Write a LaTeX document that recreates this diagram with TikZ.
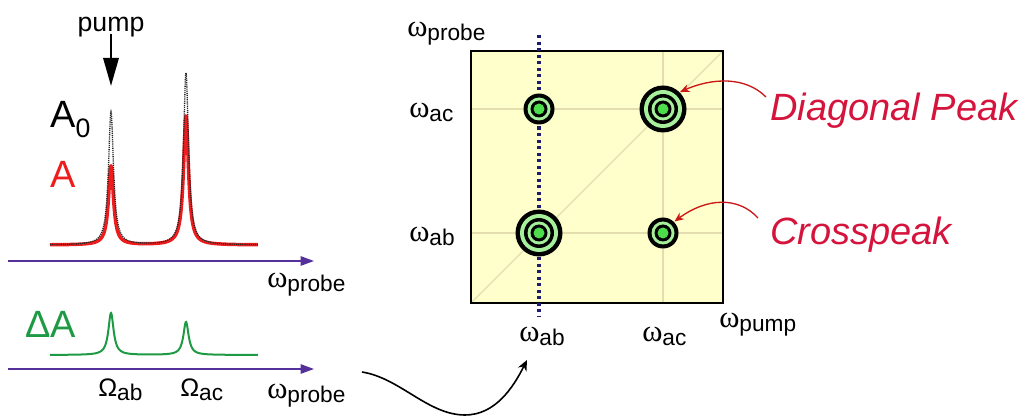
\documentclass[tikz,border=0pt]{standalone}
\usepackage{fontspec}
\setmainfont{Liberation Sans}
\newfontfamily\grk{Liberation Serif}
\usetikzlibrary{arrows.meta}

\definecolor{mapfill}{HTML}{FFFFCC}
\definecolor{gridtan}{HTML}{E4DDB0}
\definecolor{ringgreen}{HTML}{A6F09C}
\definecolor{coregreen}{HTML}{4CDC4C}
\definecolor{specred}{HTML}{EE1C1C}
\definecolor{notered}{HTML}{D4143C}
\definecolor{axispurple}{HTML}{56309A}
\definecolor{diffgreen}{HTML}{1E9A45}
\definecolor{cutnavy}{HTML}{1C1C70}

% frequency labels: symbol with a lowered subscript word
\newcommand{\wlab}[1]{{\fontsize{23}{23}\selectfont\grk ω}{\fontsize{17}{17}\selectfont\raisebox{-3pt}{#1}}}
\newcommand{\Wlab}[1]{{\fontsize{19}{19}\selectfont Ω}{\fontsize{17}{17}\selectfont\raisebox{-3pt}{#1}}}

\begin{document}
\begin{tikzpicture}[x=0.75pt,y=-0.75pt,
  lab/.style={inner sep=0pt, anchor=base west},
  bigtext/.style={inner sep=0pt, anchor=base west, font=\fontsize{28.5}{28.5}\selectfont},
  note/.style={inner sep=0pt, anchor=west, text=notered, font=\fontsize{28.5}{28.5}\selectfont\itshape},
  freqaxis/.style={draw=axispurple, line width=1.2pt, -{Triangle[width=7pt,length=10pt]}},
  pointer/.style={draw=specred!85!black, line width=1pt, -{Stealth[width=6pt,length=7pt]}},
  peakspot/.style={circle, inner sep=0pt, draw=none}]

\useasboundingbox (0,0) rectangle (1026,417);

% ---------- upper spectrum: A0 (dotted) and pumped A (red) ----------
% the plot variable t runs in steps of ten units from x = 50
\node[inner sep=0pt, anchor=base, font=\fontsize{20}{20}\selectfont] (pumplab) at (111,32) {pump};
\coordinate (pumptip) at (111,86);
\draw[line width=1.6pt, -{Triangle[width=11.5pt,length=21pt]}] (pumplab.south) ++(0,-4) -- (pumptip);

\node[bigtext] (A0) at (50,128) {A\raisebox{-7pt}{\fontsize{20}{20}\selectfont 0}};
\node[bigtext, text=specred] (A) at (50,188) {A};

\draw[specred, line width=2.6pt, line join=round]
  plot[domain=0:20.8, samples=700, variable=\t]
  ({50+10*\t},{245-79*0.09/((\t-6.1)^2+0.09)-129*0.09/((\t-13.6)^2+0.09)});
\draw[black!85, line width=1pt, dash pattern=on 0.9pt off 0.7pt]
  plot[domain=0:20.8, samples=700, variable=\t]
  ({50+10*\t},{245-133*0.09/((\t-6.1)^2+0.09)-172*0.09/((\t-13.6)^2+0.09)});

\coordinate (ax1s) at (8,261);
\coordinate (ax1e) at (314,261);
\draw[freqaxis] (ax1s) -- (ax1e);
\node[lab] (probe1) at (267,288) {\wlab{probe}};

% ---------- lower spectrum: difference signal ----------
\node[bigtext, text=diffgreen] (dA) at (25,338) {ΔA};
\draw[diffgreen, line width=1.5pt]
  plot[domain=0:20.8, samples=600, variable=\t]
  ({50+10*\t},{355-42*0.1/((\t-6.1)^2+0.1)-33*0.1/((\t-13.6)^2+0.1)});

\coordinate (ax2s) at (8,369);
\coordinate (ax2e) at (314,369);
\draw[freqaxis] (ax2s) -- (ax2e);
\node[lab] (Oab) at (98,397) {\Wlab{ab}};
\node[lab] (Oac) at (180,397) {\Wlab{ac}};
\node[lab] (probe2) at (267,398) {\wlab{probe}};

% ---------- 2D map ----------
\fill[mapfill] (471,51) rectangle (723,303);
\draw[gridtan, line width=0.8pt] (471,109) -- (723,109);
\draw[gridtan, line width=0.8pt] (471,233) -- (723,233);
\draw[gridtan, line width=0.8pt] (663,51) -- (663,303);
\draw[gridtan, line width=0.8pt] (471,303) -- (723,51);
\draw[line width=2.2pt] (471,51) rectangle (723,303);

% slice at the pump frequency
\coordinate (cuttop) at (539,35);
\coordinate (cutbot) at (539,317);
\draw[cutnavy, line width=2.3pt, dash pattern=on 2.3pt off 2.6pt] (cuttop) -- (cutbot);

% peaks: concentric contour rings
\foreach \cx/\cy in {539/233, 663/109}{
  \fill[black]      (\cx,\cy) circle[radius=23.5];
  \fill[ringgreen]  (\cx,\cy) circle[radius=19];
  \fill[black]      (\cx,\cy) circle[radius=15];
  \fill[ringgreen]  (\cx,\cy) circle[radius=11.5];
  \fill[black]      (\cx,\cy) circle[radius=8.5];
  \fill[coregreen]  (\cx,\cy) circle[radius=5.5];
}
\foreach \cx/\cy in {539/109, 663/233}{
  \fill[black]      (\cx,\cy) circle[radius=15.5];
  \fill[ringgreen]  (\cx,\cy) circle[radius=11.5];
  \fill[black]      (\cx,\cy) circle[radius=8.5];
  \fill[coregreen]  (\cx,\cy) circle[radius=5.5];
}
\node[peakspot, minimum size=36pt] (diagpk) at (663,109) {};
\node[peakspot, minimum size=24pt] (crosspk) at (663,233) {};

% axis labels of the map
\node[lab] (wprobe) at (407,37) {\wlab{probe}};
\node[lab] (wacL) at (409,118) {\wlab{ac}};
\node[lab] (wabL) at (409,242) {\wlab{ab}};
\node[lab] (wabB) at (519,342) {\wlab{ab}};
\node[lab] (wacB) at (642,342) {\wlab{ac}};
\node[lab] (wpump) at (719,328) {\wlab{pump}};

% annotations
\node[note] (diagtxt) at (770,111) {Diagonal Peak};
\node[note] (crosstxt) at (770,235) {Crosspeak};
\draw[pointer] (diagtxt.west) ++(-4,-14) .. controls (745,76) and (712,78) .. (diagpk.north east);
\draw[pointer] (crosstxt.west) ++(-12,-17) .. controls (738,196) and (706,198) .. (crosspk.north east);

% from the difference spectrum to the map slice
\coordinate (linkstart) at (362,372);
\coordinate (linklow) at (465,415);
\coordinate (linkend) at (527,360);
\draw[line width=1.2pt, -{Stealth[width=7pt,length=8pt]}]
  (linkstart) .. controls (400,378) and (428,415) .. (linklow)
  .. controls (495,415) and (513,388) .. (linkend);

\end{tikzpicture}
\end{document}
